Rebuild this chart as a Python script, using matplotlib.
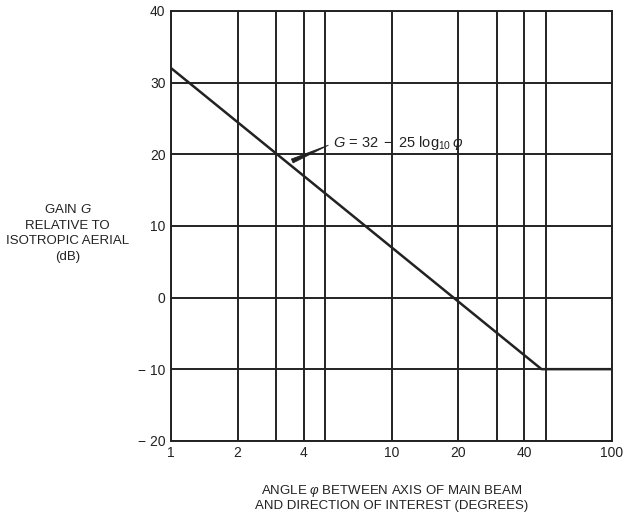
import matplotlib
matplotlib.use("Agg")
import matplotlib.pyplot as plt
import numpy as np

plt.rcParams['font.family'] = ['Liberation Sans', 'DejaVu Sans']
plt.rcParams['mathtext.fontset'] = 'custom'
plt.rcParams['mathtext.rm'] = 'Liberation Sans'
plt.rcParams['mathtext.it'] = 'Liberation Sans:italic'

# gain curve G = 32 - 25 log10(phi), floored at -10 dB
angle = [1, 47.9, 100]
gain = [32, -10, -10]

# grid and tick data
x_grid = [1, 2, 3, 4, 5, 10, 20, 30, 40, 50, 100]
x_ticks = [1, 2, 4, 10, 20, 40, 100]
x_labels = ['1', '2', '4', '10', '20', '40', '100']
y_ticks = [-20, -10, 0, 10, 20, 30, 40]
y_labels = ['\u2212 20', '\u2212 10', '0', '10', '20', '30', '40']

fig = plt.figure(figsize=(6.27, 5.18), dpi=100)
ax = fig.add_axes([0.273, 0.149, 0.703, 0.830])

ax.set_xscale('log')
ax.set_xlim(1, 100)
ax.set_ylim(-20, 40)

for xv in x_grid:
    ax.axvline(xv, color='#222222', lw=1.4, zorder=1)
for yv in y_ticks:
    ax.axhline(yv, color='#222222', lw=1.4, zorder=1)

ax.plot(angle, gain, color='#222222', lw=1.8, zorder=3)

ax.set_xticks(x_ticks)
ax.set_xticklabels(x_labels)
ax.xaxis.set_minor_locator(matplotlib.ticker.NullLocator())
ax.set_yticks(y_ticks)
ax.set_yticklabels(y_labels)
ax.tick_params(length=0, labelsize=10, colors='#222222', pad=4)
for s in ax.spines.values():
    s.set_linewidth(1.4)
    s.set_color('#222222')

# formula label with wedge pointer
ax.text(5.4, 21.5, r'$G\,=\,32\;-\;25\ \mathrm{log}_{10}\,\varphi$', fontsize=10.5,
        va='center', ha='left', color='#222222', zorder=4)
ax.annotate('', xy=(5.3, 21.4), xytext=(3.45, 18.9),
            arrowprops=dict(arrowstyle='wedge,tail_width=0.3', color='#222222', lw=0.6),
            zorder=4)

fig.text(0.108, 0.55, 'GAIN $G$\nRELATIVE TO\nISOTROPIC AERIAL\n(dB)', ha='center', va='center',
         fontsize=9.5, color='#222222', linespacing=1.4)
fig.text(0.624, 0.04, 'ANGLE $\\varphi$ BETWEEN AXIS OF MAIN BEAM\nAND DIRECTION OF INTEREST (DEGREES)',
         ha='center', va='center', fontsize=9.5, color='#222222', linespacing=1.1)

fig.savefig('out.png', dpi=100, facecolor='white')
